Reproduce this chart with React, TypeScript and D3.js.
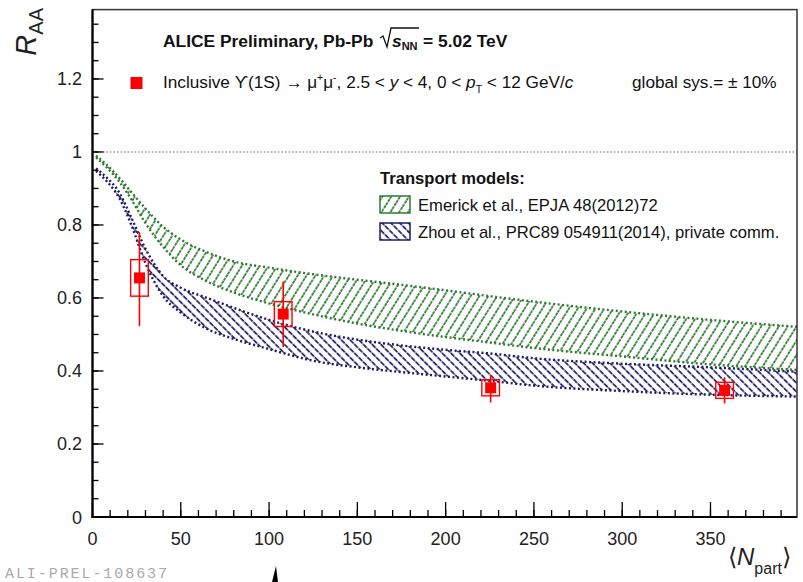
import React from "react";
import * as d3 from "d3";

const W = 803;
const H = 582;

// axis ticks
const xMajorTicks = [0, 50, 100, 150, 200, 250, 300, 350];
const xTickLabels = ["0", "50", "100", "150", "200", "250", "300", "350"];
const xMinorTicks = d3.range(0, 400, 10);
const yMajorTicks = [0, 0.2, 0.4, 0.6, 0.8, 1, 1.2];
const yTickLabels = ["0", "0.2", "0.4", "0.6", "0.8", "1", "1.2"];
const yMinorTicks = d3.range(0, 1.39, 0.05);

// ALICE data: Upsilon(1S) RAA vs <Npart>
const dataNpart = [26.6, 108, 225.5, 358];
const dataRaa = [0.655, 0.556, 0.354, 0.347];
const statUp = [0.125, 0.089, 0.035, 0.036];
const statDown = [0.132, 0.09, 0.04, 0.036];
const sysErr = [0.05, 0.034, 0.022, 0.022];
const sysHalfWidth = [5, 5, 5, 5];

// transport model bands
const bandNpart = [2, 8, 15, 22, 30, 40, 50, 65, 80, 100, 125, 150, 175, 200, 225, 250, 300, 350, 399];
const emerickUpper = [0.99, 0.965, 0.93, 0.89, 0.845, 0.795, 0.76, 0.725, 0.7, 0.683, 0.665, 0.65, 0.636, 0.621, 0.605, 0.59, 0.563, 0.54, 0.521];
const emerickLower = [0.985, 0.958, 0.92, 0.87, 0.805, 0.74, 0.69, 0.645, 0.615, 0.585, 0.555, 0.53, 0.51, 0.493, 0.478, 0.463, 0.44, 0.418, 0.403];
const zhouUpper = [0.955, 0.93, 0.89, 0.82, 0.735, 0.66, 0.628, 0.6, 0.573, 0.54, 0.508, 0.486, 0.47, 0.458, 0.448, 0.435, 0.42, 0.41, 0.398];
const zhouLower = [0.948, 0.92, 0.875, 0.8, 0.695, 0.605, 0.56, 0.515, 0.488, 0.46, 0.428, 0.41, 0.397, 0.385, 0.373, 0.36, 0.345, 0.335, 0.33];

const GREEN = "#2e7a30";
const NAVY = "#1c1c66";
const RED = "#ff0000";
const FONT = "'Liberation Sans', Arial, Helvetica, sans-serif";

export default function App() {
  const x = d3.scaleLinear().domain([0, 399]).range([92.5, 797]);
  const y = d3.scaleLinear().domain([0, 1.39]).range([517, 9.6]);
  const left = x(0), right = x(399), bottom = y(0), top = y(1.39);

  const idx = bandNpart.map((_, i) => i);
  const area = (up: number[], lo: number[]) =>
    d3.area<number>().x((i) => x(bandNpart[i])).y0((i) => y(lo[i])).y1((i) => y(up[i])).curve(d3.curveMonotoneX)(idx) || "";
  const line = (vals: number[]) =>
    d3.line<number>().x((i) => x(bandNpart[i])).y((i) => y(vals[i])).curve(d3.curveMonotoneX)(idx) || "";

  const markerSize = 11;

  return (
    <svg width={W} height={H} style={{ position: "absolute", left: 0, top: 0, background: "#fff" }} fontFamily={FONT}>
      <defs>
        <pattern id="hatchG" patternUnits="userSpaceOnUse" width="7.5" height="7.5" patternTransform="rotate(32)">
          <line x1="1" y1="0" x2="1" y2="7.5" stroke={GREEN} strokeWidth="1.7" strokeDasharray="3 1" />
        </pattern>
        <pattern id="hatchB" patternUnits="userSpaceOnUse" width="6.2" height="6.2" patternTransform="rotate(-45)">
          <line x1="1" y1="0" x2="1" y2="6.2" stroke={NAVY} strokeWidth="1.7" strokeDasharray="3 1" />
        </pattern>
        <clipPath id="plotClip">
          <rect x={left} y={top} width={right - left} height={bottom - top} />
        </clipPath>
      </defs>
      <rect x={0} y={0} width={W} height={H} fill="#fff" />

      {/* y = 1 reference */}
      <line x1={left} x2={right} y1={y(1)} y2={y(1)} stroke="#999" strokeWidth={1.5} strokeDasharray="1.5 2" />

      <g clipPath="url(#plotClip)">
        <path d={area(emerickUpper, emerickLower)} fill="url(#hatchG)" />
        <path d={line(emerickUpper)} fill="none" stroke={GREEN} strokeWidth={2.4} strokeDasharray="2 2.5" />
        <path d={line(emerickLower)} fill="none" stroke={GREEN} strokeWidth={2.4} strokeDasharray="2 2.5" />
        <path d={area(zhouUpper, zhouLower)} fill="url(#hatchB)" />
        <path d={line(zhouUpper)} fill="none" stroke={NAVY} strokeWidth={2.4} strokeDasharray="2 2.5" />
        <path d={line(zhouLower)} fill="none" stroke={NAVY} strokeWidth={2.4} strokeDasharray="2 2.5" />

        {dataNpart.map((n, i) => {
          const cx = x(n), cy = y(dataRaa[i]);
          const bx0 = x(n - sysHalfWidth[i]), bx1 = x(n + sysHalfWidth[i]);
          return (
            <g key={i}>
              <line x1={cx} x2={cx} y1={y(dataRaa[i] + statUp[i])} y2={y(dataRaa[i] - statDown[i])} stroke={RED} strokeWidth={1.6} />
              <rect x={bx0} y={y(dataRaa[i] + sysErr[i])} width={bx1 - bx0} height={y(dataRaa[i] - sysErr[i]) - y(dataRaa[i] + sysErr[i])} fill="none" stroke={RED} strokeWidth={1.4} />
              <rect x={cx - markerSize / 2} y={cy - markerSize / 2} width={markerSize} height={markerSize} fill={RED} />
            </g>
          );
        })}
      </g>

      {/* frame */}
      <rect x={left} y={top} width={right - left} height={bottom - top} fill="none" stroke="#333" strokeWidth={1.5} />
      <line x1={left} x2={left} y1={top} y2={bottom + 1} stroke="#000" strokeWidth={2.2} />
      <line x1={left - 1} x2={right} y1={bottom} y2={bottom} stroke="#000" strokeWidth={2.2} />

      {/* x ticks */}
      {xMinorTicks.map((t) => (
        <line key={"xm" + t} x1={x(t)} x2={x(t)} y1={bottom} y2={bottom - 7} stroke="#000" strokeWidth={1.3} />
      ))}
      {xMajorTicks.map((t, i) => (
        <g key={"xM" + t}>
          <line x1={x(t)} x2={x(t)} y1={bottom} y2={bottom - 15} stroke="#000" strokeWidth={1.3} />
          <text x={x(t)} y={545} fontSize={18} textAnchor="middle" fill="#222">{xTickLabels[i]}</text>
        </g>
      ))}

      {/* y ticks */}
      {yMinorTicks.map((t) => (
        <line key={"ym" + t} x1={left} x2={left + 6} y1={y(t)} y2={y(t)} stroke="#000" strokeWidth={1.3} />
      ))}
      {yMajorTicks.map((t, i) => (
        <g key={"yM" + t}>
          <line x1={left} x2={left + 11} y1={y(t)} y2={y(t)} stroke="#000" strokeWidth={1.3} />
          <text x={82} y={y(t) + 6.5} fontSize={18} textAnchor="end" fill="#222">{yTickLabels[i]}</text>
        </g>
      ))}

      {/* axis titles */}
      <text transform={`translate(36, 8) rotate(-90)`} textAnchor="end" fontSize={29} fill="#222">
        <tspan fontStyle="italic">R</tspan>
        <tspan fontSize={20} dy={7}>AA</tspan>
      </text>
      <text x={728} y={565} fontSize={24} fill="#222">
        <tspan>⟨</tspan>
        <tspan fontStyle="italic">N</tspan>
        <tspan fontSize={16} dy={9}>part</tspan>
        <tspan dy={-9}>⟩</tspan>
      </text>

      {/* header */}
      <text x={163} y={47} fontSize={17.4} fontWeight="bold" fill="#111">ALICE Preliminary, Pb-Pb</text>
      <path d="M380,38 L383,36 L387,47 L391,28 L419,28" fill="none" stroke="#111" strokeWidth={1.3} />
      <text x={392} y={47} fontSize={17.4} fontWeight="bold" fill="#111">
        <tspan fontStyle="italic">s</tspan>
        <tspan fontSize={11} dy={3}>NN</tspan>
      </text>
      <text x={423} y={47} fontSize={17.4} fontWeight="bold" fill="#111">= 5.02 TeV</text>

      <rect x={130.5} y={77} width={12} height={12} fill={RED} />
      <text x={163} y={88} fontSize={17.2} fill="#111">
        Inclusive ϒ(1S) → μ<tspan fontSize={10.5} dy={-7}>+</tspan><tspan dy={7}>μ</tspan><tspan fontSize={10.5} dy={-7}>-</tspan><tspan dy={7}>, 2.5 &lt; </tspan><tspan fontStyle="italic">y</tspan> &lt; 4, 0 &lt; <tspan fontStyle="italic">p</tspan><tspan fontSize={10.5} dy={5}>T</tspan><tspan dy={-5}> &lt; 12 GeV/</tspan><tspan fontStyle="italic">c</tspan>
      </text>
      <text x={632} y={88} fontSize={17.2} fill="#111">global sys.= ± 10%</text>

      {/* legend */}
      <text x={380} y={184} fontSize={16.6} fontWeight="bold" fill="#111">Transport models:</text>
      <rect x={380} y={196} width={30} height={17} fill="url(#hatchG)" stroke={GREEN} strokeWidth={1.5} />
      <text x={418} y={211} fontSize={16.6} fill="#111">Emerick et al., EPJA 48(2012)72</text>
      <rect x={380} y={223} width={30} height={17} fill="url(#hatchB)" stroke={NAVY} strokeWidth={1.5} />
      <text x={418} y={238} fontSize={16.6} fill="#111">Zhou et al., PRC89 054911(2014), private comm.</text>

      {/* footer */}
      <text x={5} y={578} fontSize={15} fontFamily="'Liberation Mono', 'DejaVu Sans Mono', monospace" fill="#aaa" textLength={162}>ALI-PREL-108637</text>
      <path d="M272,582 L276,566 L278,582 Z" fill="#000" />
    </svg>
  );
}
